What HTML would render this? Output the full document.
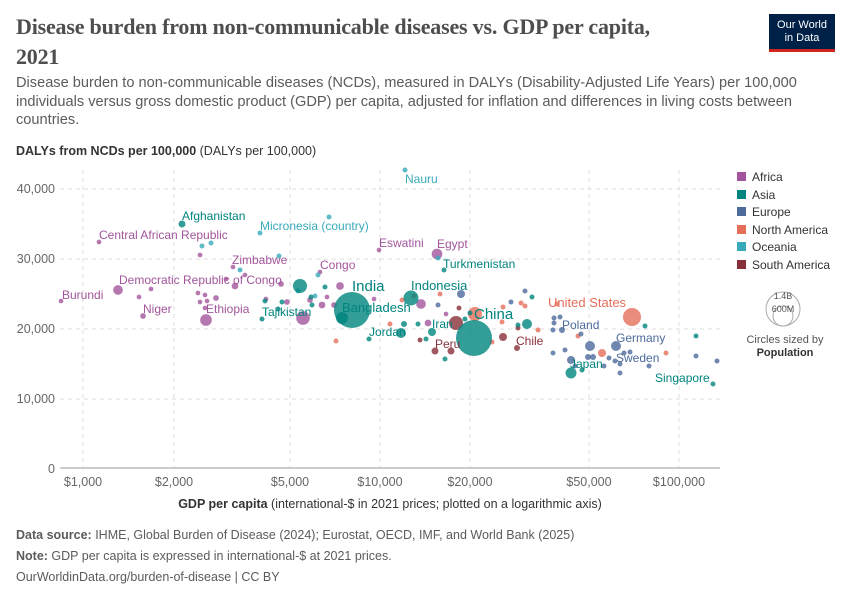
<!DOCTYPE html>
<html><head><meta charset="utf-8"><style>
body{margin:0;background:#fff;width:850px;height:600px;overflow:hidden;font-family:"Liberation Sans",sans-serif;}
.t{position:absolute;left:16px;top:12px;font-family:"Liberation Serif",serif;font-size:22px;font-weight:bold;color:#4e4e4e;line-height:30px;width:720px;letter-spacing:-0.2px}
.sub{position:absolute;left:16px;top:74px;font-size:14.6px;color:#5b5b5b;line-height:18.5px;width:790px}
.logo{position:absolute;left:769px;top:14px;width:66px;height:38px;background:#002147;border-bottom:3px solid #ce261e;box-sizing:border-box;color:#fff;font-size:11px;text-align:center;line-height:13px;padding-top:5px}
.ft{position:absolute;left:16px;font-size:12.5px;color:#5b5b5b}
</style></head><body>
<div class="t">Disease burden from non-communicable diseases vs. GDP per capita,<br>2021</div>
<div class="logo">Our World<br>in Data</div>
<div class="sub">Disease burden to non-communicable diseases (NCDs), measured in DALYs (Disability-Adjusted Life Years) per 100,000 individuals versus gross domestic product (GDP) per capita, adjusted for inflation and differences in living costs between countries.</div>
<svg width="850" height="600" style="position:absolute;left:0;top:0" font-family="Liberation Sans, sans-serif">
<text x="16" y="155" font-size="12.5" fill="#333"><tspan font-weight="bold">DALYs from NCDs per 100,000</tspan> (DALYs per 100,000)</text>
<g stroke="#ddd" stroke-dasharray="4,4">
<line x1="60" x2="720" y1="189" y2="189"/><line x1="60" x2="720" y1="259" y2="259"/><line x1="60" x2="720" y1="329" y2="329"/><line x1="60" x2="720" y1="399" y2="399"/>
<line x1="83" x2="83" y1="170" y2="468"/><line x1="174" x2="174" y1="170" y2="468"/><line x1="290" x2="290" y1="170" y2="468"/><line x1="380" x2="380" y1="170" y2="468"/><line x1="470" x2="470" y1="170" y2="468"/><line x1="589" x2="589" y1="170" y2="468"/><line x1="679" x2="679" y1="170" y2="468"/>
</g>
<line x1="60" x2="720" y1="468" y2="468" stroke="#999"/>
<g font-size="12.5" fill="#666" text-anchor="end">
<text x="55" y="193">40,000</text><text x="55" y="263">30,000</text><text x="55" y="333">20,000</text><text x="55" y="403">10,000</text><text x="55" y="473">0</text></g>
<g font-size="12.5" fill="#666" text-anchor="middle">
<text x="83" y="486">$1,000</text><text x="174" y="486">$2,000</text><text x="290" y="486">$5,000</text><text x="380" y="486">$10,000</text><text x="470" y="486">$20,000</text><text x="589" y="486">$50,000</text><text x="679" y="486">$100,000</text></g>
<text x="390" y="508" font-size="12.5" fill="#333" text-anchor="middle"><tspan font-weight="bold">GDP per capita</tspan> (international-$ in 2021 prices; plotted on a logarithmic axis)</text>
<g fill="#a2559c" fill-opacity="0.8" stroke="#fff" stroke-width="0.3">
<circle cx="61" cy="301" r="2.5"/><circle cx="99" cy="242" r="2.5"/><circle cx="118" cy="290" r="5"/><circle cx="139" cy="297" r="2.5"/><circle cx="143" cy="316" r="3"/><circle cx="151" cy="289" r="2.5"/><circle cx="198" cy="293" r="2.5"/><circle cx="200" cy="302" r="2.5"/><circle cx="205" cy="308" r="2.5"/><circle cx="205" cy="295" r="2.5"/><circle cx="216" cy="298" r="3"/><circle cx="200" cy="255" r="2.5"/><circle cx="206" cy="320" r="6"/><circle cx="233" cy="267" r="2.5"/><circle cx="245" cy="275" r="2.5"/><circle cx="235" cy="286" r="3.5"/><circle cx="226" cy="279" r="2.5"/><circle cx="320" cy="272" r="2.5"/><circle cx="281" cy="284" r="3"/><circle cx="266" cy="299" r="2.5"/><circle cx="287" cy="302" r="3"/><circle cx="303" cy="318" r="7"/><circle cx="340" cy="286" r="4"/><circle cx="327" cy="297" r="2.5"/><circle cx="334" cy="305" r="3"/><circle cx="374" cy="299" r="2.5"/><circle cx="322" cy="305" r="3.5"/><circle cx="379" cy="250" r="2.5"/><circle cx="437" cy="254" r="5.5"/><circle cx="421" cy="304" r="5"/><circle cx="428" cy="323" r="3.5"/><circle cx="446" cy="314" r="2.5"/><circle cx="310" cy="300" r="3"/><circle cx="207" cy="301" r="2.5"/></g>
<g fill="#38aaba" fill-opacity="0.8"><circle cx="405" cy="170" r="2.5"/><circle cx="329" cy="217" r="2.5"/><circle cx="260" cy="233" r="2.5"/><circle cx="279" cy="256" r="2.5"/><circle cx="211" cy="243" r="2.5"/><circle cx="202" cy="246" r="2.5"/><circle cx="298" cy="291" r="2.5"/><circle cx="315" cy="296" r="2.5"/><circle cx="438" cy="258" r="2.5"/><circle cx="240" cy="270" r="2.5"/><circle cx="318" cy="275" r="2.5"/></g>
<g fill="#e56e5a" fill-opacity="0.8"><circle cx="632" cy="317" r="9"/><circle cx="538" cy="330" r="2.5"/><circle cx="557" cy="304" r="2.5"/><circle cx="521" cy="303" r="2.5"/><circle cx="525" cy="306" r="2.5"/><circle cx="502" cy="322" r="2.5"/><circle cx="414" cy="296" r="2.5"/><circle cx="440" cy="294" r="2.5"/><circle cx="390" cy="324" r="2.5"/><circle cx="336" cy="341" r="2.5"/><circle cx="475" cy="314" r="7"/><circle cx="492" cy="342" r="2.5"/><circle cx="602" cy="353" r="4"/><circle cx="666" cy="353" r="2.5"/><circle cx="578" cy="336" r="2.5"/><circle cx="402" cy="300" r="2.5"/><circle cx="503" cy="307" r="2.5"/></g>
<g fill="#883039" fill-opacity="0.8"><circle cx="456" cy="323" r="7"/><circle cx="435" cy="351" r="3.5"/><circle cx="451" cy="351" r="3.5"/><circle cx="503" cy="337" r="4"/><circle cx="517" cy="348" r="3"/><circle cx="420" cy="340" r="2.5"/><circle cx="459" cy="308" r="2.5"/><circle cx="518" cy="328" r="2.5"/></g>
<g fill="#4c6a9c" fill-opacity="0.8"><circle cx="562" cy="330" r="3"/><circle cx="616" cy="346" r="5"/><circle cx="590" cy="346" r="5"/><circle cx="571" cy="360" r="4"/><circle cx="554" cy="318" r="2.5"/><circle cx="560" cy="317" r="2.5"/><circle cx="554" cy="323" r="2.5"/><circle cx="553" cy="330" r="2.5"/><circle cx="581" cy="334" r="2.5"/><circle cx="609" cy="358" r="2.5"/><circle cx="624" cy="353" r="2.5"/><circle cx="588" cy="357" r="3"/><circle cx="593" cy="357" r="3"/><circle cx="615" cy="361" r="2.5"/><circle cx="620" cy="364" r="2.5"/><circle cx="604" cy="366" r="2.5"/><circle cx="630" cy="352" r="2.5"/><circle cx="649" cy="366" r="2.5"/><circle cx="717" cy="361" r="2.5"/><circle cx="696" cy="356" r="2.5"/><circle cx="620" cy="373" r="2.5"/><circle cx="461" cy="294" r="4"/><circle cx="438" cy="305" r="2.5"/><circle cx="525" cy="291" r="2.5"/><circle cx="575" cy="366" r="2.5"/><circle cx="553" cy="353" r="2.5"/><circle cx="565" cy="350" r="2.5"/><circle cx="511" cy="302" r="2.5"/></g>
<g fill="#00847e" fill-opacity="0.8"><circle cx="352" cy="310" r="18"/><circle cx="474" cy="338" r="18"/><circle cx="182" cy="224" r="3.5"/><circle cx="262" cy="319" r="2.5"/><circle cx="342" cy="318" r="6"/><circle cx="300" cy="286" r="7"/><circle cx="411" cy="298" r="7.5"/><circle cx="571" cy="373" r="5.5"/><circle cx="444" cy="270" r="2.5"/><circle cx="369" cy="339" r="2.5"/><circle cx="713" cy="384" r="2.5"/><circle cx="696" cy="336" r="2.5"/><circle cx="445" cy="359" r="2.5"/><circle cx="527" cy="324" r="5"/><circle cx="432" cy="332" r="4"/><circle cx="401" cy="333" r="5"/><circle cx="404" cy="324" r="3"/><circle cx="418" cy="324" r="2.5"/><circle cx="426" cy="339" r="2.5"/><circle cx="311" cy="297" r="2.5"/><circle cx="278" cy="309" r="2.5"/><circle cx="282" cy="302" r="2.5"/><circle cx="265" cy="301" r="2.5"/><circle cx="532" cy="297" r="2.5"/><circle cx="645" cy="326" r="2.5"/><circle cx="582" cy="370" r="2.5"/><circle cx="465" cy="319" r="2.5"/><circle cx="470" cy="313" r="2.5"/><circle cx="518" cy="325" r="2.5"/><circle cx="312" cy="305" r="2.5"/><circle cx="325" cy="287" r="2.5"/></g>
<g font-size="12" fill="#a2559c">
<text x="62" y="299">Burundi</text><text x="99" y="239">Central African Republic</text><text x="119" y="284">Democratic Republic of Congo</text><text x="143" y="313">Niger</text><text x="206" y="313">Ethiopia</text><text x="232" y="264">Zimbabwe</text><text x="320" y="269">Congo</text><text x="379" y="247">Eswatini</text><text x="437" y="248">Egypt</text></g>
<g font-size="12" fill="#00847e">
<text x="182" y="220">Afghanistan</text><text x="262" y="316">Tajikistan</text><text x="352" y="291" font-size="15">India</text><text x="342" y="312" font-size="13">Bangladesh</text><text x="411" y="290" font-size="13">Indonesia</text><text x="474" y="319" font-size="15">China</text><text x="369" y="336">Jordan</text><text x="443" y="268">Turkmenistan</text><text x="432" y="328">Iran</text><text x="570" y="368">Japan</text><text x="655" y="382">Singapore</text></g>
<g font-size="12" fill="#38aaba"><text x="405" y="183">Nauru</text><text x="260" y="230">Micronesia (country)</text></g>
<g font-size="12" fill="#883039"><text x="435" y="348">Peru</text><text x="516" y="345">Chile</text></g>
<g font-size="12" fill="#4c6a9c"><text x="562" y="329">Poland</text><text x="616" y="342">Germany</text><text x="616" y="362">Sweden</text></g>
<text x="548" y="307" font-size="13" fill="#e56e5a">United States</text>
<g font-size="12" fill="#333">
<rect x="737" y="172" width="9" height="9" fill="#a2559c"/><text x="752" y="181">Africa</text>
<rect x="737" y="190" width="9" height="9" fill="#00847e"/><text x="752" y="199">Asia</text>
<rect x="737" y="207" width="9" height="9" fill="#4c6a9c"/><text x="752" y="216">Europe</text>
<rect x="737" y="225" width="9" height="9" fill="#e56e5a"/><text x="752" y="234">North America</text>
<rect x="737" y="242" width="9" height="9" fill="#38aaba"/><text x="752" y="251">Oceania</text>
<rect x="737" y="260" width="9" height="9" fill="#883039"/><text x="752" y="269">South America</text></g>
<circle cx="783" cy="309" r="17" fill="none" stroke="#aaa"/><circle cx="783" cy="316" r="10" fill="none" stroke="#aaa"/>
<text x="783" y="299" font-size="9" fill="#555" text-anchor="middle">1.4B</text><text x="783" y="312" font-size="9" fill="#555" text-anchor="middle">600M</text>
<text x="785" y="343" font-size="11" fill="#555" text-anchor="middle">Circles sized by</text><text x="785" y="356" font-size="11" font-weight="bold" fill="#333" text-anchor="middle">Population</text>
</svg>
<div class="ft" style="top:528px"><b>Data source:</b> IHME, Global Burden of Disease (2024); Eurostat, OECD, IMF, and World Bank (2025)</div>
<div class="ft" style="top:549px"><b>Note:</b> GDP per capita is expressed in international-$ at 2021 prices.</div>
<div class="ft" style="top:570px">OurWorldinData.org/burden-of-disease | CC BY</div>
</body></html>
